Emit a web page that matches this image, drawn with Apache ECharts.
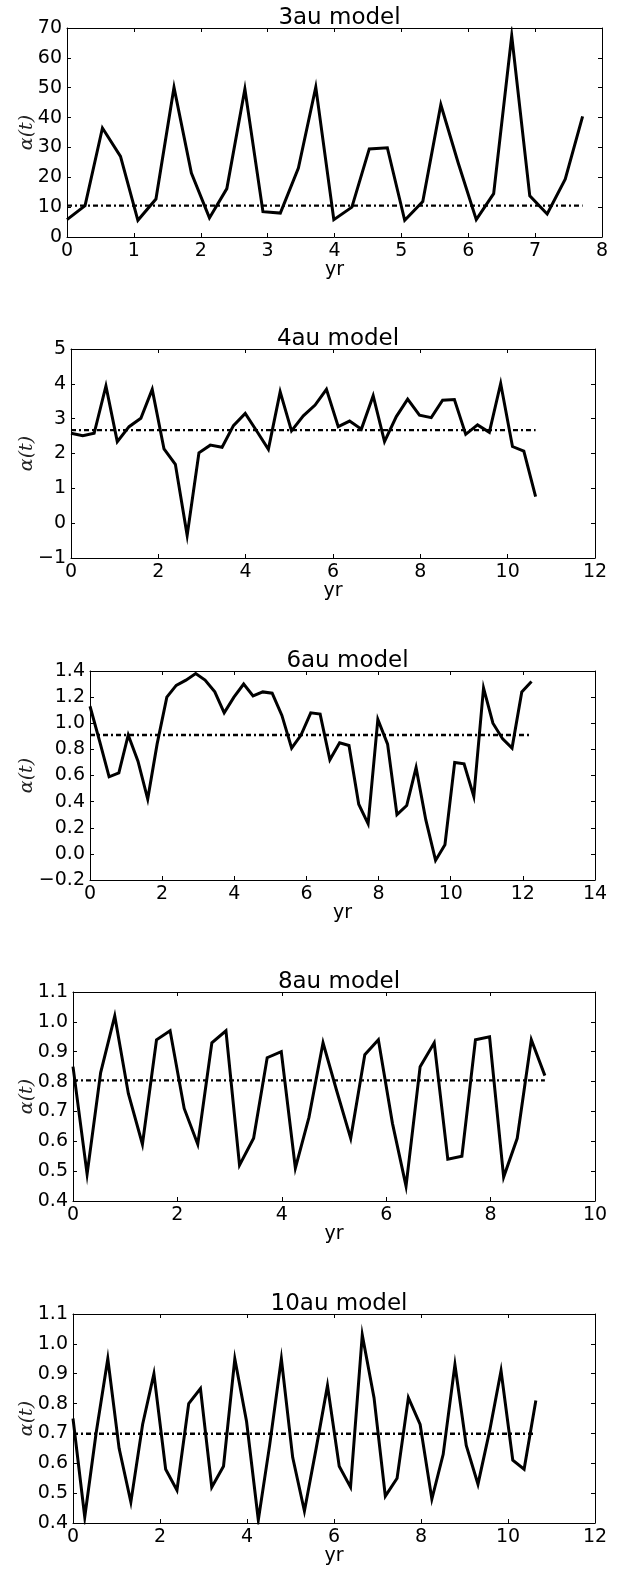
<!DOCTYPE html>
<html>
<head>
<meta charset="utf-8">
<title>alpha(t) models</title>
<script src="https://cdn.jsdelivr.net/npm/echarts@6/dist/echarts.min.js"></script>
<style>
  html, body { margin: 0; padding: 0; background: #fff; }
  #main { width: 625px; height: 1569px; }
</style>
</head>
<body>
<div id="main"></div>
<script>
'use strict';

// sampling times in yr, same for every model
var years = [0.00, 0.27, 0.53, 0.80, 1.06, 1.33, 1.60, 1.86, 2.13, 2.39,
	2.66, 2.93, 3.19, 3.46, 3.72, 3.99, 4.26, 4.52, 4.79, 5.05,
	5.32, 5.59, 5.85, 6.12, 6.38, 6.65, 6.92, 7.18, 7.45, 7.71,
	7.98, 8.25, 8.51, 8.78, 9.04, 9.31, 9.58, 9.84, 10.11, 10.37,
	10.64, 10.91, 11.17, 11.44, 11.70, 11.97, 12.24];

var titles = ['3au model', '4au model', '6au model', '8au model', '10au model'];

var alpha3au = [5.8, 10.5, 36.5, 27.0, 5.6, 12.7, 50.1, 21.4, 6.4, 16.2,
	49.6, 8.5, 8.0, 23.1, 50.2, 5.8, 10.0, 29.5, 29.9, 5.6,
	11.9, 44.3, 24.8, 5.8, 14.5, 67.4, 13.8, 7.7, 19.4, 40.4];
var alpha4au = [2.58, 2.51, 2.58, 3.94, 2.34, 2.77, 3.01, 3.84, 2.13, 1.69,
	-0.35, 2.02, 2.24, 2.18, 2.80, 3.15, 2.63, 2.12, 3.77, 2.65,
	3.08, 3.39, 3.84, 2.77, 2.93, 2.70, 3.66, 2.34, 3.06, 3.56,
	3.10, 3.03, 3.53, 3.55, 2.55, 2.82, 2.61, 4.01, 2.20, 2.07,
	0.76];
var alpha6au = [1.13, 0.86, 0.59, 0.62, 0.91, 0.71, 0.42, 0.84, 1.20, 1.29,
	1.33, 1.38, 1.33, 1.24, 1.08, 1.20, 1.30, 1.21, 1.24, 1.23,
	1.06, 0.81, 0.91, 1.08, 1.07, 0.72, 0.85, 0.83, 0.38, 0.23,
	1.03, 0.84, 0.30, 0.37, 0.66, 0.26, -0.05, 0.07, 0.70, 0.69,
	0.44, 1.27, 1.00, 0.88, 0.81, 1.24, 1.32];
var alpha8au = [0.85, 0.49, 0.83, 1.02, 0.76, 0.59, 0.94, 0.97, 0.71, 0.59,
	0.93, 0.97, 0.52, 0.61, 0.88, 0.90, 0.51, 0.68, 0.93, 0.77,
	0.61, 0.89, 0.94, 0.66, 0.45, 0.85, 0.93, 0.54, 0.55, 0.94,
	0.95, 0.48, 0.61, 0.94, 0.82];
var alpha10au = [0.75, 0.42, 0.70, 0.95, 0.65, 0.47, 0.73, 0.90, 0.58, 0.51,
	0.80, 0.85, 0.52, 0.59, 0.95, 0.74, 0.41, 0.66, 0.95, 0.62,
	0.44, 0.65, 0.86, 0.59, 0.52, 1.03, 0.82, 0.49, 0.55, 0.82,
	0.73, 0.48, 0.63, 0.93, 0.66, 0.53, 0.71, 0.91, 0.61, 0.58,
	0.81];

// dash-dot reference level of each model
var meanLevels = [10.5, 2.67, 0.91, 0.804, 0.699];

// axis ranges and tick steps
var yMin = [0, -1, -0.2, 0.4, 0.4];
var yMax = [70, 5, 1.4, 1.1, 1.1];
var yStep = [10, 1, 0.2, 0.1, 0.1];
var xMax = [8, 12, 14, 10, 12];
var xStep = [1, 2, 2, 2, 2];

var allSeries = [alpha3au, alpha4au, alpha6au, alpha8au, alpha10au];

// plot boxes (px)
var boxes = [
	{left: 67, top: 28, width: 535, height: 209},
	{left: 71, top: 349, width: 524, height: 209},
	{left: 90, top: 671, width: 505, height: 209},
	{left: 73, top: 992, width: 522, height: 209},
	{left: 73, top: 1314, width: 522, height: 209}
];

var FONT = 'DejaVu Sans';
var frameLine = {show: true, onZero: false, lineStyle: {color: '#000', width: 1}};
var inTick = {show: true, inside: true, length: 4, lineStyle: {color: '#000', width: 1}};

function fmt(dec) {
	return function(v) {
		return (+v).toFixed(dec).replace('-', '\u2212');
	};
}

var option = {
	animation: false,
	backgroundColor: '#fff',
	title: [],
	grid: [],
	xAxis: [],
	yAxis: [],
	series: []
};

boxes.forEach(function(b, i) {
	var vals = allSeries[i];
	var n = vals.length;
	var yDec = yStep[i] < 1 ? 1 : 0;

	option.title.push({
		text: titles[i],
		left: b.left + b.width / 2,
		textAlign: 'center',
		top: b.top - 26,
		textStyle: {fontFamily: FONT, fontSize: 23, fontWeight: 'normal', color: '#000'}
	});

	option.grid.push({left: b.left, top: b.top, width: b.width, height: b.height, containLabel: false});

	// bottom + top x axes
	option.xAxis.push({
		type: 'value', gridIndex: i, position: 'bottom',
		min: 0, max: xMax[i], interval: xStep[i],
		name: 'yr', nameLocation: 'middle', nameGap: 24, nameMoveOverlap: false,
		nameTextStyle: {fontFamily: FONT, fontSize: 19, color: '#000'},
		axisLine: frameLine, axisTick: inTick,
		axisLabel: {fontFamily: FONT, fontSize: 19, color: '#000', margin: 5,
			showMinLabel: true, showMaxLabel: true, formatter: fmt(0)},
		splitLine: {show: false}
	});
	option.xAxis.push({
		type: 'value', gridIndex: i, position: 'top',
		min: 0, max: xMax[i], interval: xStep[i],
		axisLine: frameLine, axisTick: inTick,
		axisLabel: {show: false}, splitLine: {show: false}
	});

	// left + right y axes
	option.yAxis.push({
		type: 'value', gridIndex: i, position: 'left',
		min: yMin[i], max: yMax[i], interval: yStep[i],
		name: '\u03b1(t)', nameLocation: 'middle', nameRotate: 90,
		nameGap: b.left - 37, nameMoveOverlap: false,
		nameTextStyle: {fontFamily: 'DejaVu Serif', fontStyle: 'italic', fontSize: 19, color: '#222'},
		axisLine: frameLine, axisTick: inTick,
		axisLabel: {fontFamily: FONT, fontSize: 19, color: '#000', margin: 5,
			showMinLabel: true, showMaxLabel: true, formatter: fmt(yDec)},
		splitLine: {show: false}
	});
	option.yAxis.push({
		type: 'value', gridIndex: i, position: 'right',
		min: yMin[i], max: yMax[i], interval: yStep[i],
		axisLine: frameLine, axisTick: inTick,
		axisLabel: {show: false}, splitLine: {show: false}
	});

	var pts = [];
	for (var k = 0; k < n; k++) {
		pts.push([years[k], vals[k]]);
	}

	option.series.push({
		type: 'line',
		xAxisIndex: 2 * i, yAxisIndex: 2 * i,
		data: pts,
		symbol: 'none',
		lineStyle: {color: '#000', width: 3, join: 'miter'},
		z: 3
	});
	option.series.push({
		type: 'line',
		xAxisIndex: 2 * i, yAxisIndex: 2 * i,
		data: [[years[0], meanLevels[i]], [years[n - 1], meanLevels[i]]],
		symbol: 'none',
		lineStyle: {color: '#000', width: 2.4, type: [5, 3, 2, 3]},
		z: 2
	});
});

var chart = echarts.init(document.getElementById('main'), null, {renderer: 'canvas'});
chart.setOption(option);
</script>
</body>
</html>
